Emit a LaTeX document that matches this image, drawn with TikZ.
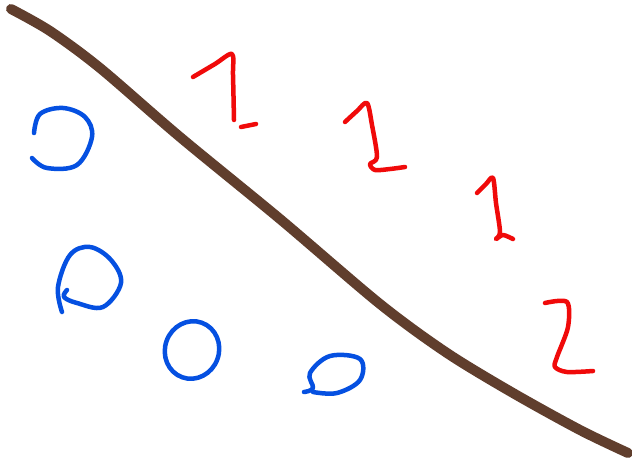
\documentclass[tikz,border=0pt]{standalone}
\begin{document}
\begin{tikzpicture}[x=1pt,y=-1pt,line cap=round,line join=round,
  divider/.style={draw={rgb,255:red,96;green,62;blue,45},line width=10pt},
  redink/.style={draw={rgb,255:red,240;green,10;blue,10},line width=4.5pt},
  blueink/.style={draw={rgb,255:red,5;green,80;blue,225},line width=4.5pt}]
\useasboundingbox[fill=white] (0,0) rectangle (632,468);
% divider line
\draw[divider] plot[smooth,tension=0.5] coordinates {(11,9) (50,31) (100,68) (180,137) (280,219) (380,304) (447,353) (513,393) (580,430) (628,453)};
% red marks
\draw[redink] plot[smooth,tension=0.5] coordinates {(193,77) (215,64) (232,54) (233,75) (234,120)};
\draw[redink] (241,127) -- (256,124);
\draw[redink] plot[smooth,tension=0.5] coordinates {(345,122) (357,111) (367,103) (372,125) (377,157) (370,164) (375,170) (390,169) (405,167)};
\draw[redink] plot[smooth,tension=0.5] coordinates {(477,193) (486,184) (493,178) (496,203) (500,232) (496,239) (503,235) (513,239)};
\draw[redink] plot[smooth,tension=0.5] coordinates {(545,303) (567,302) (568,327) (557,357) (555,367) (567,372) (593,371)};
% blue marks
\draw[blueink] plot[smooth,tension=0.6] coordinates {(34,133) (40,114) (63,108) (85,117) (92,137) (77,165) (47,168) (32,158)};
\draw[blueink] plot[smooth,tension=0.6] coordinates {(62,312) (58,287) (70,255) (90,247) (111,260) (121,283) (103,307) (77,303) (64,297) (67,290)};
\draw[blueink,rotate around={-20:(192,350)}] (192,350) ellipse [x radius=27,y radius=29];
\draw[blueink] plot[smooth,tension=0.6] coordinates {(304,392) (313,388) (310,373) (330,356) (360,359) (360,380) (337,393) (313,392)};
\end{tikzpicture}
\end{document}
